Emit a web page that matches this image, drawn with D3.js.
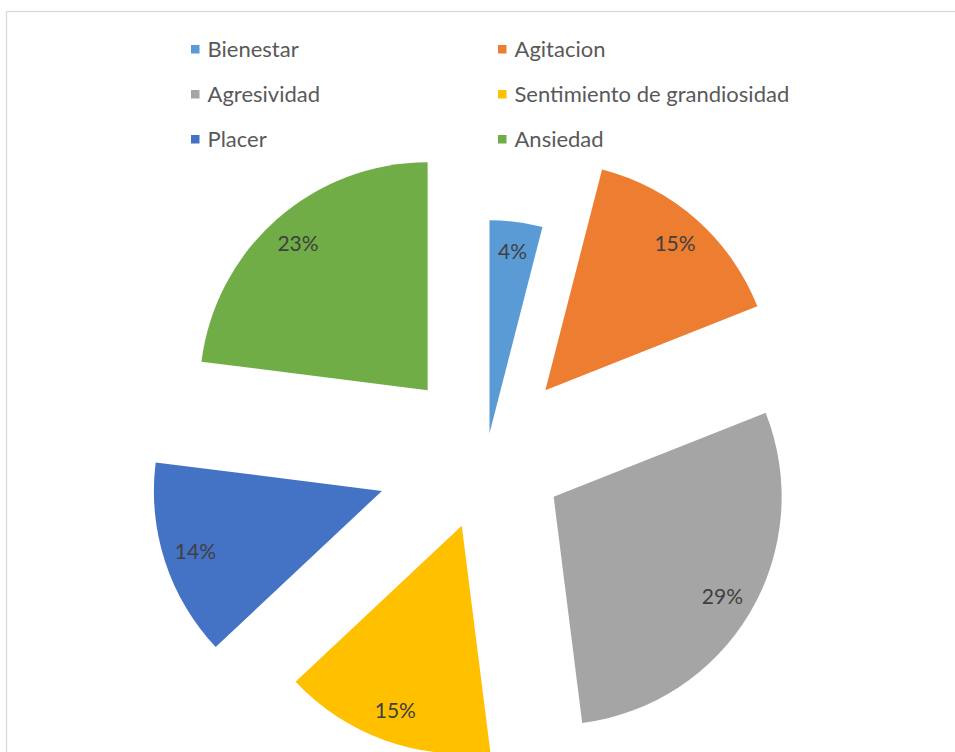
<!DOCTYPE html>
<html>
<head>
<meta charset="utf-8">
<script src="https://cdn.jsdelivr.net/npm/d3@7"></script>
<style>
  html, body { margin: 0; padding: 0; background: #ffffff; }
  svg { display: block; }
</style>
</head>
<body>
<svg id="chart" width="955" height="752"></svg>
<script>
// Share of responses per category (percent)
const categories = ["Bienestar", "Agitacion", "Agresividad", "Sentimiento de grandiosidad", "Placer", "Ansiedad"];
const values = [4, 15, 29, 15, 14, 23];
const colors = ["#5B9BD5", "#ED7D31", "#A5A5A5", "#FFC000", "#4472C4", "#70AD47"];

// Layout
const cx = 486.5, cy = 457;
const baseRadius = 228;
// how far each slice is pulled out from the centre, and its own radius
const explode = [24, 89, 78, 73, 110, 89];
const sliceRadius = [213, baseRadius, baseRadius, baseRadius, baseRadius, baseRadius];
const labelFrac = 0.86;
const font = "Lato, 'Open Sans', sans-serif";

const svg = d3.select("#chart");

// chart area frame
svg.append("rect")
  .attr("x", 6.5).attr("y", 11.5)
  .attr("width", 1000).attr("height", 800)
  .attr("fill", "#ffffff")
  .attr("stroke", "#D9D9D9")
  .attr("stroke-width", 1.3);

const pie = d3.pie().sort(null).value(d => d).startAngle(0).endAngle(2 * Math.PI);
const arcs = pie(values);

const pieG = svg.append("g").attr("transform", `translate(${cx},${cy})`);

const slice = pieG.selectAll("g.slice")
  .data(arcs)
  .join("g")
  .attr("class", "slice")
  .attr("transform", (d, i) => {
    const mid = (d.startAngle + d.endAngle) / 2;
    return `translate(${Math.sin(mid) * explode[i]},${-Math.cos(mid) * explode[i]})`;
  });

slice.append("path")
  .attr("d", (d, i) => d3.arc().innerRadius(0).outerRadius(sliceRadius[i])(d))
  .attr("fill", (d, i) => colors[i]);

slice.append("text")
  .attr("x", (d, i) => Math.sin((d.startAngle + d.endAngle) / 2) * sliceRadius[i] * labelFrac)
  .attr("y", (d, i) => -Math.cos((d.startAngle + d.endAngle) / 2) * sliceRadius[i] * labelFrac)
  .attr("dy", "0.36em")
  .attr("text-anchor", "middle")
  .attr("font-family", font)
  .attr("font-size", 21)
  .attr("fill", "#404040")
  .text(d => d.data + "%");

// Legend: two columns, three rows
const legendCols = [191, 498];
const legendRows = [49, 94, 139];
const legend = svg.append("g");
const items = legend.selectAll("g.item")
  .data(categories)
  .join("g")
  .attr("class", "item")
  .attr("transform", (d, i) => `translate(${legendCols[i % 2]},${legendRows[Math.floor(i / 2)]})`);

items.append("rect")
  .attr("x", 0).attr("y", -4)
  .attr("width", 8.5).attr("height", 8.5)
  .attr("fill", (d, i) => colors[i]);

items.append("text")
  .attr("x", 16.5)
  .attr("y", 0)
  .attr("dy", "0.36em")
  .attr("font-family", font)
  .attr("font-size", 22)
  .attr("fill", "#595959")
  .text(d => d);
</script>
</body>
</html>
